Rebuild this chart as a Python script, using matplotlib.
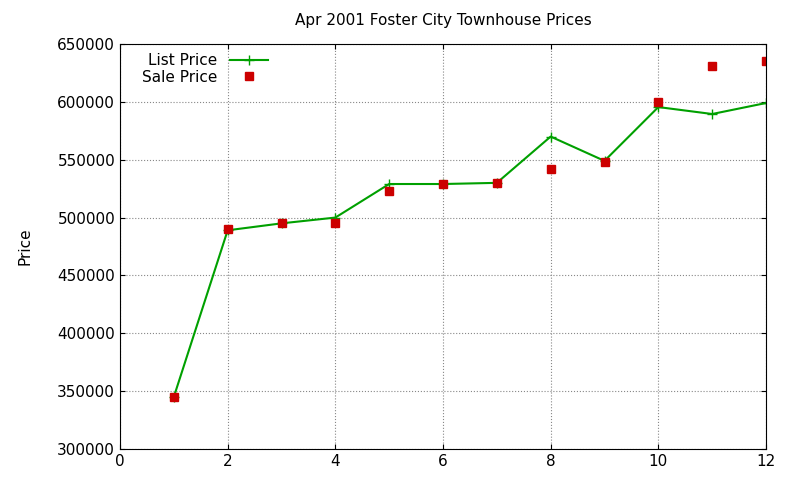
import matplotlib.pyplot as plt

months = [1, 2, 3, 4, 5, 6, 7, 8, 9, 10, 11, 12]
list_price = [345000, 489000, 495000, 500000, 529000, 529000, 530000, 570000, 549000, 595500, 589500, 599000]
sale_price = [345000, 490000, 495000, 495000, 523000, 529000, 530000, 542000, 548000, 599500, 631000, 635000]

fig = plt.figure(figsize=(8, 4.8), dpi=100)
ax = fig.add_axes([120 / 800, 1 - 449 / 480, 646 / 800, 405 / 480])

ax.plot(months, list_price, color='#00a000', marker='+', markersize=7, linewidth=1.5, label='List Price')
ax.plot(months, sale_price, color='#cc0000', marker='s', markersize=6, linestyle='none', label='Sale Price')

ax.set_xlim(0, 12)
ax.set_ylim(300000, 650000)
ax.set_xticks(range(0, 13, 2))
ax.set_yticks(range(300000, 650001, 50000))
ax.tick_params(direction='in', top=True, right=True, labelsize=11)
ax.grid(True, linestyle=':', color='#888888', linewidth=0.8)
ax.set_title('Apr 2001 Foster City Townhouse Prices', fontsize=11, pad=14)
ax.set_ylabel('Price', fontsize=11, labelpad=18)

leg = ax.legend(loc='upper left', markerfirst=False, frameon=False, fontsize=11,
                handlelength=2.5, borderaxespad=0.2, labelspacing=0.1,
                bbox_to_anchor=(0.02, 1.0))
for t in leg.get_texts():
    t.set_ha('right')

fig.savefig('out.png', dpi=100)
